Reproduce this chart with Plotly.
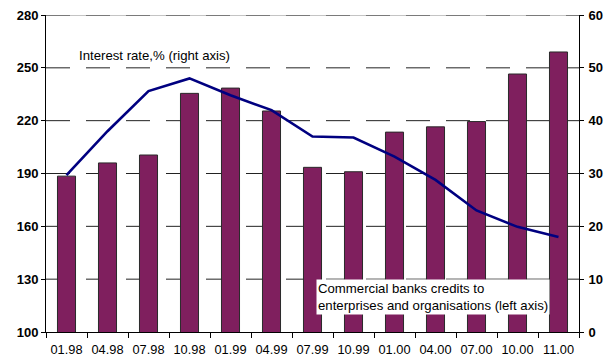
import plotly.graph_objects as go

categories = ["01.98", "04.98", "07.98", "10.98", "01.99", "04.99", "07.99",
              "10.99", "01.00", "04.00", "07.00", "10.00", "11.00"]
credits = [188.5, 196, 200.5, 235.5, 238.5, 225.5, 193.5, 191, 213.5, 216.5, 219.5, 246.5, 259]
interest_rate = [29.7, 38.0, 45.6, 48.0, 44.8, 42.0, 37.0, 36.8, 33.2, 28.8, 23.0, 19.9, 18.0]

left_ticks = [100, 130, 160, 190, 220, 250, 280]
right_ticks = [0, 10, 20, 30, 40, 50, 60]

FONT = "Liberation Sans, Arial, sans-serif"

fig = go.Figure()
fig.add_trace(go.Bar(
    x=categories, y=credits, width=0.44,
    marker=dict(color="#7F1F5E", line=dict(color="#2a2a2a", width=1)),
    yaxis="y", hoverinfo="skip", showlegend=False,
))
fig.add_trace(go.Scatter(
    x=categories, y=interest_rate, mode="lines",
    line=dict(color="#000080", width=2.6),
    yaxis="y2", hoverinfo="skip", showlegend=False,
))

shapes = []
for v in left_ticks[1:-1]:
    shapes.append(dict(type="line", xref="paper", yref="y", x0=0, x1=1, y0=v, y1=v,
                       line=dict(color="#222222", width=1, dash="24px,16px"), layer="below"))
shapes.append(dict(type="line", xref="paper", yref="y", x0=0, x1=1, y0=left_ticks[-1], y1=left_ticks[-1],
                   line=dict(color="#c4c4c4", width=2), layer="below"))
shapes.append(dict(type="line", xref="paper", yref="y", x0=0, x1=1, y0=left_ticks[-1], y1=left_ticks[-1],
                   line=dict(color="#7a7a7a", width=2, dash="24px,16px"), layer="below"))

fig.update_layout(
    width=606, height=350,
    margin=dict(l=38, r=35, t=7, b=26, autoexpand=False),
    paper_bgcolor="white", plot_bgcolor="white",
    font=dict(family=FONT, size=13, color="black"),
    xaxis=dict(
        type="category", showline=True, linecolor="black", linewidth=1,
        ticks="outside", tickson="boundaries", ticklen=5, tickcolor="black",
        showgrid=False, tickfont=dict(size=12.8, family=FONT), automargin=False,
        tickangle=0, ticklabeloverflow="allow", ticklabelstandoff=6,
    ),
    yaxis=dict(
        range=[100, 280], tickvals=left_ticks, showline=True, linecolor="black",
        linewidth=1, ticks="outside", ticklen=4, tickcolor="black",
        showgrid=False, zeroline=False, automargin=False, ticklabeloverflow="allow",
        tickfont=dict(size=13, family=FONT, weight="bold"),
    ),
    yaxis2=dict(
        range=[0, 60], tickvals=right_ticks, overlaying="y", side="right",
        showline=True, linecolor="black", linewidth=1, ticks="outside",
        ticklen=4, tickcolor="black", showgrid=False, zeroline=False, automargin=False,
        ticklabeloverflow="allow", ticklabelstandoff=2,
        tickfont=dict(size=13, family=FONT, weight="bold"),
    ),
    shapes=shapes,
    annotations=[
        dict(text="Interest rate,% (right axis)", xref="paper", yref="paper",
             x=(77 - 46) / 533, y=(332 - 56) / 317, xanchor="left", yanchor="middle",
             showarrow=False, bgcolor="white", font=dict(size=13.2, family=FONT)),
        dict(text="Commercial banks credits to<br>enterprises and organisations (left axis)",
             xref="paper", yref="paper", x=(316 - 46) / 533, y=(332 - 297) / 317,
             xanchor="left", yanchor="middle", align="left", showarrow=False,
             bgcolor="white", borderpad=1, font=dict(size=13.2, family=FONT)),
    ],
)

fig.write_html("out.html")
